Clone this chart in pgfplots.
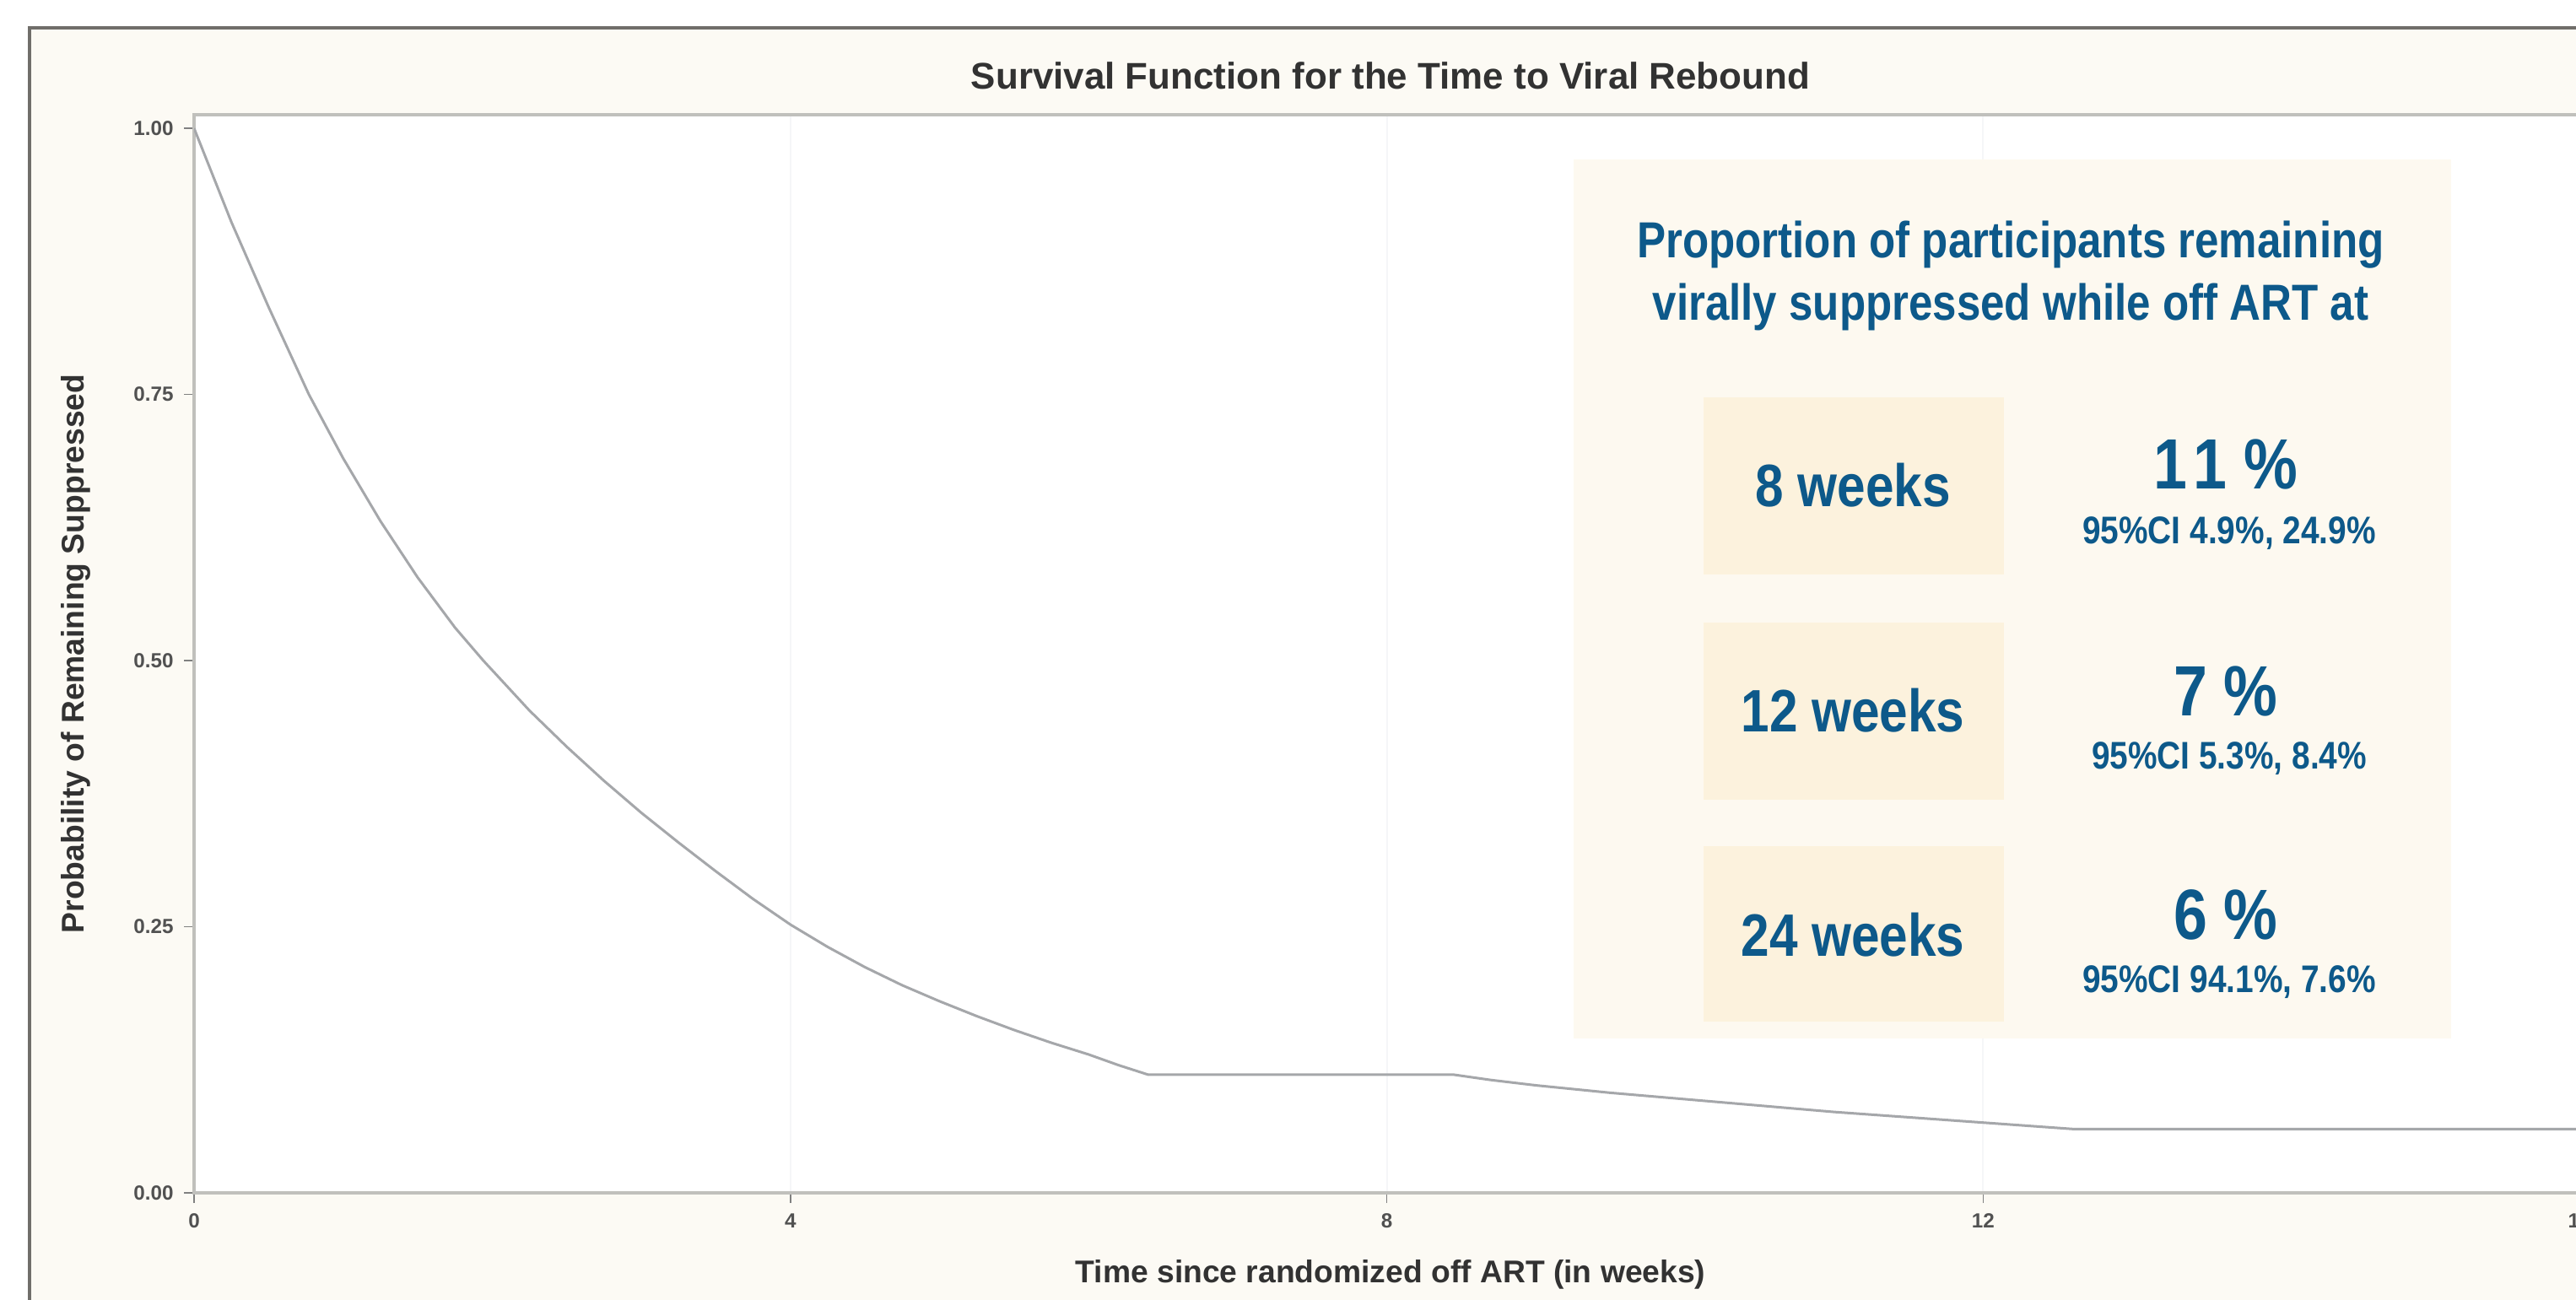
\documentclass[border=0pt]{standalone}
\usepackage{pgfplots}
\pgfplotsset{compat=1.18}
\usepackage{fontspec}
\setmainfont{Liberation Sans}
\newfontfamily\nar[FakeStretch=0.85]{Liberation Sans}
\definecolor{framec}{RGB}{112,110,106}
\definecolor{cream}{RGB}{252,250,244}
\definecolor{panel}{RGB}{253,249,240}
\definecolor{cell}{RGB}{252,242,221}
\definecolor{navy}{RGB}{13,89,138}
\definecolor{axgray}{RGB}{192,192,188}
\definecolor{curvec}{RGB}{165,167,170}
\definecolor{txt}{RGB}{50,50,50}
\definecolor{gridc}{RGB}{245,246,248}

\begin{document}
\begin{tikzpicture}
\useasboundingbox (0,0) rectangle (30.53,15.40);
\clip (0,0) rectangle (30.53,15.40);
\fill[white] (0,0) rectangle (30.53,15.40);
\filldraw[fill=cream, draw=framec, line width=0.045cm] (0.35,-1) rectangle (31,15.07);

\begin{axis}[
  at={(2.30cm,1.26cm)}, anchor=south west,
  scale only axis, width=28.36cm, height=12.78cm,
  xmin=0, xmax=16.05, ymin=0, ymax=1.0127,
  axis background/.style={fill=white},
  axis line style={draw=axgray, line width=0.045cm},
  xtick={0,4,8,12,16}, ytick={0,0.25,0.5,0.75,1},
  xtick pos=bottom, ytick pos=left, tick align=outside,
  major tick length=0.12cm,
  tick style={draw=gray, line width=0.4pt},
  yticklabel style={/pgf/number format/.cd, fixed, fixed zerofill, precision=2, assume math mode=true},
  xticklabel style={/pgf/number format/assume math mode=true},
  tick label style={font=\bfseries\fontsize{6.9}{8}\selectfont, text=txt!85},
  xmajorgrids, grid style={draw=gridc, line width=0.6pt},
  title={Survival Function for the Time to Viral Rebound},
  title style={font=\bfseries\fontsize{12.5}{14}\selectfont, text=txt, at={(axis description cs:0.5,1.0195)}, anchor=center},
  xlabel={Time since randomized off ART (in weeks)},
  xlabel style={font=\bfseries\fontsize{10.6}{12}\selectfont, text=txt, at={(axis description cs:0.5,-0.0759)}, anchor=center},
  ylabel={Probability of Remaining Suppressed},
  ylabel style={font=\bfseries\fontsize{10.6}{12}\selectfont, text=txt, at={(axis description cs:-0.0494,0.5)}, anchor=center},
]
\addplot[curvec, line width=0.03cm] coordinates {
(0,1.000) (0.25,0.912) (0.5,0.832) (0.77,0.750) (1.0,0.690) (1.25,0.631)
(1.5,0.578) (1.75,0.531) (1.94,0.500) (2.25,0.453) (2.5,0.419) (2.75,0.387)
(3.0,0.357) (3.25,0.329) (3.5,0.302) (3.75,0.276) (4.0,0.252) (4.25,0.231)
(4.5,0.212) (4.75,0.195) (5.0,0.180) (5.25,0.166) (5.5,0.153) (5.75,0.141)
(6.0,0.130) (6.2,0.120) (6.4,0.111) (8.45,0.111) (8.7,0.106) (9.0,0.101)
(9.5,0.094) (10.0,0.088) (10.5,0.082) (11.0,0.076) (11.5,0.071) (12.0,0.066)
(12.3,0.063) (12.6,0.060) (16.1,0.060)
};
\end{axis}

% inset panel
\fill[panel] (18.65,13.51) rectangle (29.05,3.09);
\fill[cell] (20.19,10.69) rectangle (23.75,8.59);
\fill[cell] (20.19,8.02) rectangle (23.75,5.92);
\fill[cell] (20.19,5.37) rectangle (23.75,3.29);

\begin{scope}[every node/.style={text=navy, inner sep=0pt, anchor=base}]
\node[font=\nar\bfseries\fontsize{17.1}{20}\selectfont] at (23.83,12.35) {Proportion of participants remaining};
\node[font=\nar\bfseries\fontsize{17.1}{20}\selectfont] at (23.83,11.61) {virally suppressed while off ART at};

\node[font=\nar\bfseries\fontsize{20.2}{24}\selectfont] at (21.96,9.40) {8 weeks};
\node[font=\nar\bfseries\fontsize{20.2}{24}\selectfont] at (21.96,6.73) {12 weeks};
\node[font=\nar\bfseries\fontsize{20.2}{24}\selectfont] at (21.96,4.07) {24 weeks};

\node[font=\nar\bfseries\fontsize{24}{28}\selectfont] at (26.38,9.61) {1\kern0.08em1 \%};
\node[font=\nar\bfseries\fontsize{24}{28}\selectfont] at (26.38,6.92) {7 \%};
\node[font=\nar\bfseries\fontsize{24}{28}\selectfont] at (26.38,4.27) {6 \%};

\node[font=\nar\bfseries\fontsize{13}{15}\selectfont] at (26.42,8.96) {95\%CI 4.9\%, 24.9\%};
\node[font=\nar\bfseries\fontsize{13}{15}\selectfont] at (26.42,6.29) {95\%CI 5.3\%, 8.4\%};
\node[font=\nar\bfseries\fontsize{13}{15}\selectfont] at (26.42,3.64) {95\%CI 94.1\%, 7.6\%};
\end{scope}
\end{tikzpicture}
\end{document}
